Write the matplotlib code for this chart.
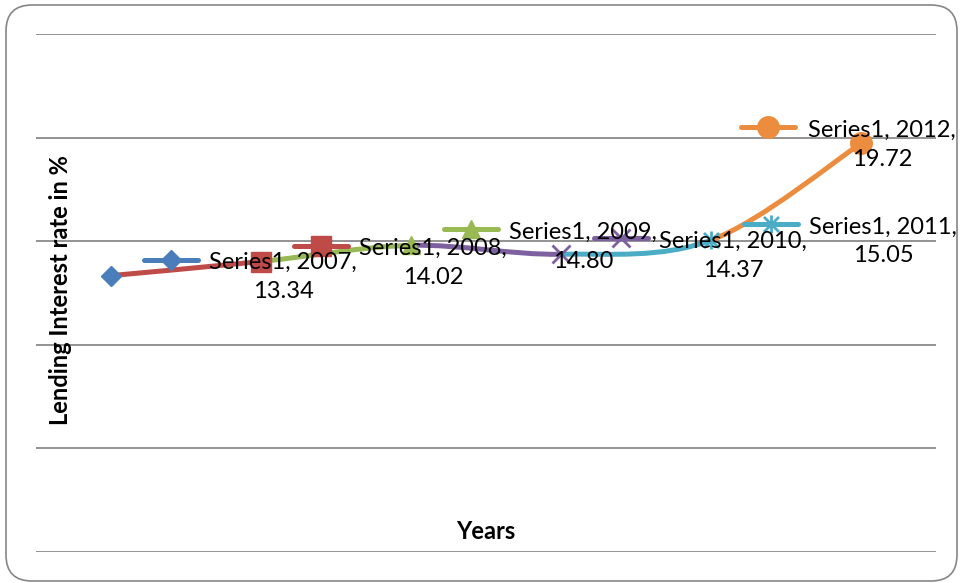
import matplotlib
matplotlib.use('Agg')
import matplotlib.pyplot as plt
import matplotlib.transforms as mtransforms
from matplotlib.path import Path
from matplotlib.patches import PathPatch, FancyBboxPatch

years = [2007, 2008, 2009, 2010, 2011, 2012]
rates = [13.34, 14.02, 14.80, 14.37, 15.05, 19.72]
series_name = 'Series1'
x_title = 'Years'
y_title = 'Lending Interest rate in %'

# Excel-style "vary colours by point": each point and the segment ending at it
colors = ['#4A7EBB', '#BE4B48', '#98B954', '#7D60A0', '#4BACC6', '#EC8C3E']

# asterisk marker: an x with a vertical stroke
asterisk = Path([(-0.5, -0.5), (0.5, 0.5), (-0.5, 0.5), (0.5, -0.5),
                 (0, -0.6), (0, 0.6)],
                [Path.MOVETO, Path.LINETO, Path.MOVETO, Path.LINETO,
                 Path.MOVETO, Path.LINETO])
markers = ['D', 's', '^', 'x', asterisk, 'o']
marker_sizes = [10.5, 14, 13, 13, 13, 15.5]

# data label placement in pixels relative to each point
key_dx = [60, 60, 60, 60, 60, -93]
text_dx = [172, 172, 172, 172, 172, 21]

plt.rcParams['font.family'] = ['Lato', 'DejaVu Sans']


def smooth_segments(xs, ys):
    """Cubic Bezier pieces through the points, like Excel's smoothed line."""
    n = len(xs)
    pieces = []
    for i in range(1, n):
        x0, y0 = xs[max(i - 2, 0)], ys[max(i - 2, 0)]
        x1, y1 = xs[i - 1], ys[i - 1]
        x2, y2 = xs[i], ys[i]
        x3, y3 = xs[min(i + 1, n - 1)], ys[min(i + 1, n - 1)]
        c1 = (x1 + (x2 - x0) / 6, y1 + (y2 - y0) / 6)
        c2 = (x2 - (x3 - x1) / 6, y2 - (y3 - y1) / 6)
        pieces.append(Path([(x1, y1), c1, c2, (x2, y2)],
                           [Path.MOVETO, Path.CURVE4, Path.CURVE4,
                            Path.CURVE4]))
    return pieces


def draw_marker(ax, x, y, i, transform=None, **kw):
    face = 'none' if i in (3, 4) else colors[i]
    kwargs = dict(marker=markers[i], ms=marker_sizes[i], mfc=face,
                  mec=colors[i], mew=2 if i in (3, 4) else 1,
                  linestyle='none', **kw)
    if transform is not None:
        kwargs['transform'] = transform
    ax.plot([x], [y], **kwargs)


fig = plt.figure(figsize=(9.61, 5.83), dpi=100)
W, H = 961, 583
ax = fig.add_axes([36 / W, (H - 552) / H, 900 / W, 518 / H])

xs = list(range(len(years)))
ax.set_xlim(-0.5, len(years) - 0.5)
ax.set_ylim(0, 25)
ax.set_yticks(range(0, 26, 5))
ax.set_xticks([])
ax.tick_params(left=False, labelleft=False)
for s in ax.spines.values():
    s.set_visible(False)
ax.grid(axis='y', color='#8A8A8A', linewidth=1.3)
ax.set_axisbelow(True)
ax.autoscale(False)

for i, piece in enumerate(smooth_segments(xs, rates)):
    ax.add_patch(PathPatch(piece, facecolor='none', edgecolor=colors[i + 1],
                           linewidth=3.6, capstyle='round', zorder=2))

for i, (x, r) in enumerate(zip(xs, rates)):
    draw_marker(ax, x, r, i, zorder=3)

# data labels with their legend keys
for i, (x, yr, r) in enumerate(zip(xs, years, rates)):
    pix = mtransforms.Affine2D() + mtransforms.ScaledTranslation(
        x, r, ax.transData)
    ax.plot([key_dx[i] - 27, key_dx[i] + 27], [16, 16], color=colors[i],
            linewidth=3.6, solid_capstyle='round', transform=pix, zorder=4)
    draw_marker(ax, key_dx[i], 16, i, transform=pix, zorder=5)
    ax.text(text_dx[i], -1.5, f'{series_name}, {yr},\n{r:.2f}',
            transform=pix, ha='center', va='center', ma='center',
            fontsize=17, linespacing=1.45, color='#000000', zorder=6)

ax.text(0.5, 0.039, x_title, transform=ax.transAxes, ha='center',
        va='center', fontsize=17, fontweight='bold', zorder=6)
ax.text(0.027, 0.505, y_title, transform=ax.transAxes, ha='center',
        va='center', rotation=90, fontsize=17, fontweight='bold', zorder=6)

# rounded chart border
border = FancyBboxPatch((6, H - 581), 951, 576,
                        boxstyle='round,pad=0,rounding_size=26',
                        transform=mtransforms.IdentityTransform(),
                        facecolor='none', edgecolor='#868686', linewidth=1.2)
fig.patches.append(border)

fig.savefig('out.png', dpi=100)
